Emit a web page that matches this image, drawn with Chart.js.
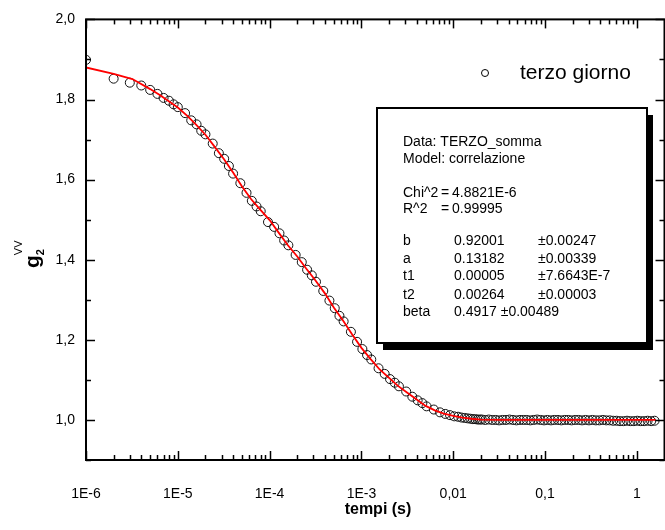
<!DOCTYPE html>
<html>
<head>
<meta charset="utf-8">
<script src="https://cdn.jsdelivr.net/npm/chart.js@4"></script>
<style>
  body { margin: 0; background: #fff; overflow: hidden; }
  canvas { display: block; }
</style>
</head>
<body>
<canvas id="grafico" width="670" height="530"></canvas>
<script>
// Dati misurati (tempi in secondi, g2 VV)
const tempi = [
  1e-6, 2e-6, 3e-6, 4e-6, 5e-6, 6e-6, 7e-6, 8e-6, 9e-6,
  1e-5, 1.2e-5, 1.4e-5, 1.6e-5, 1.8e-5, 2e-5, 2.4e-5, 2.8e-5, 3.2e-5, 3.6e-5, 4e-5,
  4.8e-5, 5.6e-5, 6.4e-5, 7.2e-5, 8e-5, 9.6e-5, 1.12e-4, 1.28e-4, 1.44e-4, 1.6e-4,
  1.92e-4, 2.24e-4, 2.56e-4, 2.88e-4, 3.2e-4, 3.84e-4, 4.48e-4, 5.12e-4, 5.76e-4, 6.4e-4,
  7.68e-4, 8.96e-4, 1.024e-3, 1.152e-3, 1.28e-3, 1.536e-3, 1.792e-3, 2.048e-3, 2.304e-3, 2.56e-3,
  3.072e-3, 3.584e-3, 4.096e-3, 4.608e-3, 5.12e-3, 6.144e-3, 7.168e-3, 8.192e-3, 9.216e-3, 1.024e-2,
  1.13e-2, 1.229e-2, 1.33e-2, 1.434e-2, 1.54e-2, 1.638e-2, 1.74e-2, 1.843e-2, 1.95e-2,
  0.0205, 0.0223, 0.0244, 0.0266, 0.029, 0.0316, 0.0345, 0.0376, 0.041, 0.0447,
  0.0488, 0.0532, 0.058, 0.0632, 0.069, 0.0752, 0.082, 0.0894, 0.0975, 0.106,
  0.116, 0.126, 0.138, 0.15, 0.164, 0.179, 0.195, 0.213, 0.232, 0.253,
  0.276, 0.301, 0.328, 0.358, 0.39, 0.426, 0.464, 0.506, 0.552, 0.602,
  0.656, 0.716, 0.781, 0.851, 0.928, 1.01, 1.1, 1.2, 1.31, 1.43, 1.56
];
const g2 = [
  1.899, 1.852, 1.842, 1.835, 1.824, 1.814, 1.804, 1.797, 1.788,
  1.781, 1.766, 1.748, 1.738, 1.722, 1.713, 1.690, 1.666, 1.652, 1.634, 1.615,
  1.591, 1.567, 1.547, 1.533, 1.521, 1.494, 1.482, 1.466, 1.448, 1.436,
  1.412, 1.394, 1.375, 1.361, 1.345, 1.322, 1.298, 1.279, 1.260, 1.246,
  1.220, 1.195, 1.177, 1.162, 1.151, 1.129, 1.115, 1.102, 1.093, 1.084,
  1.071, 1.058, 1.049, 1.042, 1.034, 1.026, 1.019, 1.015, 1.012, 1.009,
  1.008, 1.006, 1.005, 1.004, 1.003, 1.002, 1.002, 1.001, 1.001,
  1.001, 1.000, 1.001, 1.000, 1.000, 0.999, 1.000, 1.000, 1.001, 1.000,
  0.999, 1.000, 1.000, 1.000, 0.999, 1.000, 1.001, 1.000, 0.999, 1.000,
  0.999, 1.000, 1.000, 0.999, 1.000, 1.000, 0.999, 1.000, 1.000, 0.999,
  1.000, 0.999, 1.000, 0.999, 0.999, 1.000, 0.999, 0.999, 0.998, 0.998,
  0.997, 0.997, 0.998, 0.997, 0.997, 0.998, 0.997, 0.997, 0.998, 0.997, 0.998
];

// Curva di fit (modello correlazione)
const tempiFit = [
  1e-6, 2e-6, 3.2e-6, 5e-6, 6.3e-6, 1e-5, 1.26e-5, 1.58e-5, 2e-5, 2.5e-5,
  3.16e-5, 4e-5, 5e-5, 6.3e-5, 7.9e-5, 1e-4, 1.26e-4, 1.58e-4, 2e-4, 2.5e-4,
  3.16e-4, 4e-4, 5e-4, 6.3e-4, 7.9e-4, 1e-3, 1.26e-3, 1.58e-3, 2e-3, 2.5e-3,
  3.16e-3, 4e-3, 5e-3, 6.3e-3, 7.9e-3, 1e-2, 1.26e-2, 1.58e-2, 2e-2, 3.16e-2, 1.6
];
const g2Fit = [
  1.880, 1.864, 1.851, 1.826, 1.812, 1.780, 1.760, 1.737, 1.712, 1.683,
  1.652, 1.618, 1.583, 1.551, 1.525, 1.499, 1.467, 1.436, 1.408, 1.378,
  1.348, 1.316, 1.281, 1.248, 1.214, 1.180, 1.152, 1.126, 1.105, 1.085,
  1.068, 1.051, 1.035, 1.024, 1.016, 1.010, 1.006, 1.003, 1.001, 1.000, 1.000
];

// Assi
const xDecadi = [1e-6, 1e-5, 1e-4, 1e-3, 1e-2, 1e-1, 1];
const xEtichette = ['1E-6', '1E-5', '1E-4', '1E-3', '0,01', '0,1', '1'];
const yValori = [1.0, 1.2, 1.4, 1.6, 1.8, 2.0];
const yEtichette = ['1,0', '1,2', '1,4', '1,6', '1,8', '2,0'];
const yMinori = [0.9, 1.1, 1.3, 1.5, 1.7, 1.9];

// Riquadro dei risultati del fit
const righeFit = [
  ['Data: TERZO_somma'],
  ['Model: correlazione'],
  [],
  ['Chi^2', '=', '4.8821E-6'],
  ['R^2', '=', '0.99995'],
  [],
  ['b', '0.92001', '±0.00247'],
  ['a', '0.13182', '±0.00339'],
  ['t1', '0.00005', '±7.6643E-7'],
  ['t2', '0.00264', '±0.00003'],
  ['beta', '0.4917 ±0.00489']
];
const baselineRighe = [146, 163, 0, 197, 213, 0, 245, 263, 280, 299, 316];

const FONT = '"Liberation Sans", Arial, sans-serif';

// Cornice con tacche verso l'interno su tutti i lati
const cornice = {
  id: 'cornice',
  afterDraw(chart) {
    const ctx = chart.ctx;
    const a = chart.chartArea;
    const xs = chart.scales.x, ys = chart.scales.y;
    ctx.save();
    ctx.strokeStyle = '#000';
    ctx.lineWidth = 2;
    ctx.strokeRect(a.left, a.top, a.right - a.left, a.bottom - a.top);

    ctx.lineWidth = 1.5;
    const tacca = (x1, y1, x2, y2) => { ctx.beginPath(); ctx.moveTo(x1, y1); ctx.lineTo(x2, y2); ctx.stroke(); };

    // asse x
    xDecadi.forEach(d => {
      const px = Math.round(xs.getPixelForValue(d)) + 0.5;
      tacca(px, a.bottom, px, a.bottom - 9);
      tacca(px, a.top, px, a.top + 9);
      for (let m = 2; m <= 9; m++) {
        const v = m * d;
        if (v >= xs.max) break;
        const p = Math.round(xs.getPixelForValue(v)) + 0.5;
        tacca(p, a.bottom, p, a.bottom - 5);
        tacca(p, a.top, p, a.top + 5);
      }
    });
    // asse y
    yValori.forEach(v => {
      const py = Math.round(ys.getPixelForValue(v)) + 0.5;
      tacca(a.left, py, a.left + 9, py);
      tacca(a.right, py, a.right - 9, py);
    });
    yMinori.forEach(v => {
      const py = Math.round(ys.getPixelForValue(v)) + 0.5;
      tacca(a.left, py, a.left + 5, py);
      tacca(a.right, py, a.right - 5, py);
    });

    // titolo asse x
    ctx.fillStyle = '#000';
    ctx.font = 'bold 16px ' + FONT;
    ctx.textAlign = 'center';
    ctx.textBaseline = 'alphabetic';
    ctx.fillText('tempi (s)', 378, 514);

    // titolo asse y: g con pedice 2 e apice VV
    ctx.translate(39, 268);
    ctx.rotate(-Math.PI / 2);
    ctx.textAlign = 'left';
    ctx.font = 'bold 21px ' + FONT;
    ctx.fillText('g', 0, 0);
    const wg = ctx.measureText('g').width;
    ctx.font = 'bold 11px ' + FONT;
    ctx.fillText('2', wg, 5);
    ctx.font = '11px ' + FONT;
    ctx.fillText('VV', wg, -17);
    ctx.restore();

    // legenda
    ctx.save();
    ctx.strokeStyle = '#000';
    ctx.lineWidth = 1;
    ctx.beginPath();
    ctx.arc(485, 73, 3.5, 0, Math.PI * 2);
    ctx.stroke();
    ctx.fillStyle = '#000';
    ctx.font = '21px ' + FONT;
    ctx.textBaseline = 'alphabetic';
    ctx.fillText('terzo giorno', 520, 79);

    // riquadro con ombra
    ctx.fillRect(383, 115, 270, 235);
    ctx.fillStyle = '#fff';
    ctx.fillRect(377, 108, 270, 235);
    ctx.lineWidth = 2;
    ctx.strokeRect(377, 108, 270, 235);
    ctx.fillStyle = '#000';
    ctx.font = '14px ' + FONT;
    righeFit.forEach((r, i) => {
      const colonne = r.length === 3 && i < 6 ? [403, 441, 452] : [403, 454, 538];
      r.forEach((t, j) => ctx.fillText(t, colonne[j], baselineRighe[i]));
    });
    ctx.restore();
  }
};

new Chart(document.getElementById('grafico'), {
  type: 'scatter',
  data: {
    datasets: [
      {
        type: 'line',
        label: 'fit',
        data: tempiFit.map((t, i) => ({ x: t, y: g2Fit[i] })),
        borderColor: '#ff0000',
        borderWidth: 1.8,
        pointRadius: 0,
        fill: false,
        tension: 0,
        order: 0
      },
      {
        label: 'terzo giorno',
        data: tempi.map((t, i) => ({ x: t, y: g2[i] })),
        borderColor: '#111',
        backgroundColor: 'rgba(0,0,0,0)',
        borderWidth: 1,
        pointRadius: 4.5,
        order: 1
      }
    ]
  },
  options: {
    responsive: false,
    animation: false,
    events: [],
    layout: { padding: { top: 16, left: 0, right: 0, bottom: 16 } },
    plugins: { legend: { display: false }, tooltip: { enabled: false } },
    scales: {
      x: {
        type: 'logarithmic',
        min: 1e-6,
        max: 2,
        grid: { display: false, drawTicks: false },
        border: { display: false },
        afterBuildTicks: s => { s.ticks = xDecadi.map(v => ({ value: v })); },
        afterFit: s => { s.height = 54; s.paddingLeft = 0; s.paddingRight = 0; },
        ticks: {
          autoSkip: false,
          maxRotation: 0,
          padding: 26,
          color: '#000',
          font: { family: FONT, size: 14 },
          callback: (v, i) => xEtichette[i]
        }
      },
      y: {
        min: 0.9,
        max: 2.0,
        grid: { display: false, drawTicks: false },
        border: { display: false },
        afterBuildTicks: s => { s.ticks = yValori.map(v => ({ value: v })); },
        afterFit: s => { s.width = 86; },
        ticks: {
          padding: 11,
          color: '#000',
          font: { family: FONT, size: 14 },
          callback: (v, i) => yEtichette[i]
        }
      }
    }
  },
  plugins: [cornice]
});
</script>
</body>
</html>
